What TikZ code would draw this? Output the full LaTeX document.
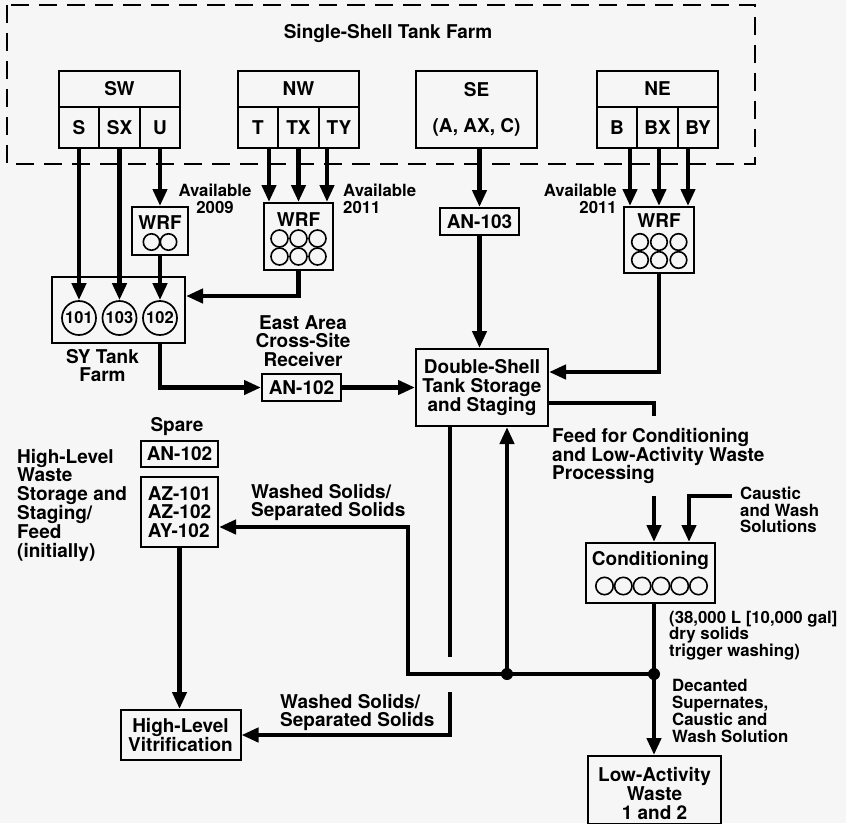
\documentclass[tikz,border=0pt]{standalone}
\usepackage{fontspec}
\setmainfont{TeX Gyre Heros}
\usetikzlibrary{arrows.meta}
\definecolor{paper}{HTML}{F6F6F6}
\begin{document}
\begin{tikzpicture}[x=1pt,y=-1pt,
  every node/.style={font=\bfseries\fontsize{19}{18.8}\selectfont, inner sep=0pt},
  box/.style={draw, line width=2pt, fill=paper, align=center},
  small/.style={font=\bfseries\fontsize{16.8}{16.8}\selectfont},
  conn/.style={line width=4.2pt, -{Triangle[length=17pt,width=14pt]}},
  tank/.style={circle, draw, line width=1.7pt, minimum size=34pt,
               font=\bfseries\fontsize{16.5}{16.5}\selectfont},
  pot/.style={line width=1.6pt},
  cell/.style={box, minimum height=41pt},
  head/.style={box, minimum height=36pt},
  dot/.style={circle, fill, minimum size=12pt}
]
% page
\fill[paper] (0,0) rectangle (846,823);
\useasboundingbox (0,0) rectangle (846,823);

% single-shell tank farm enclosure
\draw[line width=2pt, dash pattern=on 18pt off 10pt] (7,5) rectangle (755,164);
\node[anchor=base] (ssttitle) at (388,38) {Single-Shell Tank Farm};

% SW farm
\node[head, minimum width=121pt] (sw) at (119.5,89) {SW};
\node[cell, minimum width=40pt] (s)  at (79,127.5) {S};
\node[cell, minimum width=41pt] (sx) at (119.5,127.5) {SX};
\node[cell, minimum width=40pt] (u)  at (160,127.5) {U};
% NW farm
\node[head, minimum width=121pt] (nw) at (298.5,89) {NW};
\node[cell, minimum width=40pt] (t)  at (258,127.5) {T};
\node[cell, minimum width=41pt] (tx) at (298.5,127.5) {TX};
\node[cell, minimum width=40pt] (ty) at (339,127.5) {TY};
% SE farm
\node[box, minimum width=121pt, minimum height=77pt] (se) at (476.5,109.5) {SE\\[17pt](A, AX, C)};
% NE farm
\node[head, minimum width=121pt] (ne) at (657.5,89) {NE};
\node[cell, minimum width=40pt] (b)  at (617,127.5) {B};
\node[cell, minimum width=41pt] (bx) at (657.5,127.5) {BX};
\node[cell, minimum width=40pt] (by) at (698,127.5) {BY};

% waste retrieval facilities
\node[box, minimum width=56pt, minimum height=48pt] (wrfsw) at (160,231) {};
\node (wrfswT) at (160,222.5) {WRF};
\foreach \cx in {151.5,168.5} \draw[pot] (\cx,242) circle[radius=8.2];

\node[box, minimum width=69pt, minimum height=67pt] (wrfnw) at (298.5,236.5) {};
\node (wrfnwT) at (298.5,220) {WRF};
\foreach \cx in {279.5,298.5,317.5} \foreach \cy in {238.5,256.5}
  \draw[pot] (\cx,\cy) circle[radius=8.5];

\node[box, minimum width=70pt, minimum height=66pt] (wrfne) at (659,240) {};
\node (wrfneT) at (659,221) {WRF};
\foreach \cx in {640,659,678.5} \foreach \cy in {242,260}
  \draw[pot] (\cx,\cy) circle[radius=8.3];

\node[box, minimum width=79pt, minimum height=27pt] (an103) at (479.5,221.5) {AN-103};

\node[small, align=center] (av2009) at (215,199) {Available\\2009};
\node[small, align=left, anchor=west] (avnw) at (343,199) {Available\\2011};
\node[small, align=right, anchor=east] (avne) at (617,199) {Available\\2011};

% SY tank farm
\node[box, minimum width=133pt, minimum height=66pt] (sy) at (118.5,310) {};
\node[tank] (c101) at (79,318) {101};
\node[tank] (c103) at (119.5,318) {103};
\node[tank] (c102) at (160,318) {102};
\node[align=center] (sylbl) at (102.5,365.5) {SY Tank\\Farm};

% east area receiver and double-shell storage
\node[align=center] (ealbl) at (303,341) {East Area\\Cross-Site\\Receiver};
\node[box, minimum width=79pt, minimum height=27pt] (an102e) at (301.5,387.5) {AN-102};
\node[box, minimum width=132pt, minimum height=77pt] (dst) at (482,387.5) {Double-Shell\\Tank Storage\\and Staging};

% high-level waste staging
\node[anchor=base] (sparelbl) at (177,431) {Spare};
\node[box, minimum width=77pt, minimum height=26pt] (spare) at (179.5,454) {AN-102};
\node[box, minimum width=77pt, minimum height=70pt, align=left] (az) at (179.5,512) {AZ-101\\AZ-102\\AY-102};
\node[align=left, anchor=west] (hlwlbl) at (17,505) {High-Level\\Waste\\Storage and\\Staging/\\Feed\\(initially)};
\node[box, minimum width=120pt, minimum height=50pt] (hlv) at (180.5,735) {High-Level\\Vitrification};

% conditioning and low-activity waste
\node[box, minimum width=129pt, minimum height=60pt] (cond) at (650.5,573) {};
\node[anchor=base] (condT) at (650.5,565) {Conditioning};
\foreach \k in {0,...,5} \draw[pot] (604.5+18.8*\k,586) circle[radius=8.7];
\node[box, minimum width=133pt, minimum height=68pt, anchor=north] (law) at (654.5,755) {};
\node[align=center] (lawT) at (654.5,793.5) {Low-Activity\\Waste\\1 and 2};

% flows out of the single-shell farms
\draw[conn] (s.south) -- (c101.north);
\draw[conn] (sx.south) -- (c103.north);
\draw[conn] (u.south) -- (wrfsw.north);
\draw[conn] (wrfsw.south) -- (c102.north);
\draw[conn] ([xshift=11pt]t.south) -- ([xshift=11pt]t.south |- wrfnw.north);
\draw[conn] (tx.south) -- (tx.south |- wrfnw.north);
\draw[conn] ([xshift=-12pt]ty.south) -- ([xshift=-12pt]ty.south |- wrfnw.north);
\draw[conn] (wrfnw.south) |- ([yshift=14pt]sy.east);
\draw[conn] (se.south -| an103) -- (an103.north);
\draw[conn] ([xshift=13pt]b.south) -- ([xshift=13pt]b.south |- wrfne.north);
\draw[conn] ([xshift=1.5pt]bx.south) -- ([xshift=1.5pt]bx.south |- wrfne.north);
\draw[conn] ([xshift=-10pt]by.south) -- ([xshift=-10pt]by.south |- wrfne.north);

% into double-shell storage
\draw[conn] (sy.south -| c102) |- (an102e.west);
\draw[conn] (an102e) -- (dst);
\draw[conn] (an103.south) -- (an103.south |- dst.north);
\draw[conn] (wrfne.south) |- ([yshift=15.5pt]dst.east);

% feed to conditioning
\draw[conn] ([yshift=-15.5pt]dst.east) -| ([xshift=3.5pt]cond.north);
\node[align=left, anchor=west, fill=paper, inner ysep=12pt, inner xsep=1pt] (feedlbl) at (551,456)
  {Feed for Conditioning\\and Low-Activity Waste\\Processing};
\coordinate (caus) at (732,496);
\draw[conn] (caus) -| ([xshift=38.5pt]cond.north);
\node[small, align=left, anchor=west] (causlbl) at (740,510) {Caustic\\and Wash\\Solutions};

% out of conditioning
\draw[conn] ([xshift=3.5pt]cond.south) -- ([xshift=3.5pt]cond.south |- law.north);
\node[small, align=left, anchor=west] (triglbl) at (669,635.5) {(38,000 L [10,000 gal]\\dry solids\\trigger washing)};
\node[small, align=left, anchor=west] (declbl) at (672,711) {Decanted\\Supernates,\\Caustic and\\Wash Solution};

% solids to high-level vitrification
\draw[conn] ([xshift=-32pt]dst.south) |- (hlv.east);
\draw[conn] (az.south) -- (az.south |- hlv.north);
\node[align=left, anchor=west] (wslow) at (280,712.5) {Washed Solids/\\Separated Solids};

% washed solids return line (crosses the vitrification feed with a break)
\fill[paper] (443,657) rectangle (457,692);
\coordinate (j2) at (654,674);
\coordinate (j1) at (507,674);
\coordinate (wsc) at (408,674);
\draw[conn] (j2) -- (wsc) |- ([yshift=-15pt]az.east);
\draw[conn] (j1) -- (j1 |- dst.south);
\node[dot] (j1dot) at (j1) {};
\node[dot] (j2dot) at (j2) {};
\node[align=left, anchor=west] (wsup) at (251,502.5) {Washed Solids/\\Separated Solids};
\end{tikzpicture}
\end{document}
